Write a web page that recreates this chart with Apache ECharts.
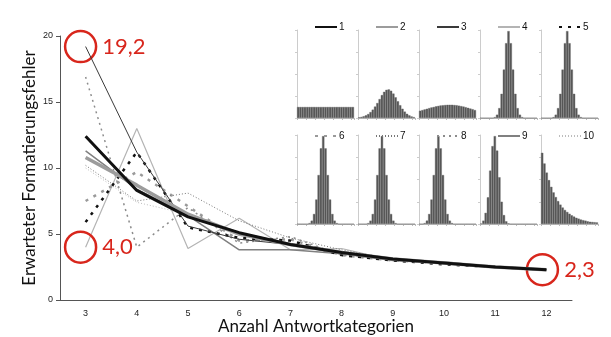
<!DOCTYPE html>
<html>
<head>
<meta charset="utf-8">
<style>
  html, body { margin: 0; padding: 0; background: #fff; }
  #chart { width: 611px; height: 337px; }
</style>
<script src="https://cdn.jsdelivr.net/npm/echarts@6/dist/echarts.min.js"></script>
</head>
<body>
<div id="chart"></div>
<script>
// Kategorien der x-Achse
const categories = ['3', '4', '5', '6', '7', '8', '9', '10', '11', '12']
const yTicks = [0, 5, 10, 15, 20]

// erwarteter Formatierungsfehler je Verteilung 1..10
const s1 = [12.4, 8.3, 6.3, 5.1, 4.2, 3.6, 3.1, 2.8, 2.5, 2.3]
const s2 = [10.8, 8.7, 6.5, 5.0, 4.2, 3.6, 3.1, 2.8, 2.5, 2.3]
const s3 = [19.2, 11.2, 5.6, 4.6, 4.2, 3.5, 3.1, 2.8, 2.5, 2.3]
const s4 = [4.0, 13.0, 3.9, 6.2, 3.8, 3.9, 3.0, 2.9, 2.5, 2.3]
const s5 = [5.9, 11.2, 5.5, 4.7, 4.5, 3.4, 3.0, 2.7, 2.5, 2.3]
const s6 = [7.5, 9.7, 7.1, 4.5, 4.6, 3.4, 3.0, 2.8, 2.5, 2.3]
const s7 = [10.2, 7.5, 8.1, 6.0, 4.7, 3.8, 3.1, 2.8, 2.5, 2.3]
const s8 = [16.9, 4.0, 7.0, 4.3, 4.8, 3.4, 3.1, 2.8, 2.5, 2.3]
const s9 = [11.3, 8.4, 6.4, 3.8, 3.8, 3.5, 3.0, 2.8, 2.5, 2.3]
const s10 = [10.0, 7.4, 6.5, 4.9, 4.1, 3.6, 3.1, 2.8, 2.5, 2.3]
const seriesNames = ['1', '2', '3', '4', '5', '6', '7', '8', '9', '10']

// Histogramme der Verteilungen (Inset)
const h1 = [0.5, 0.5, 0.5, 0.5, 0.5, 0.5, 0.5, 0.5, 0.5, 0.5, 0.5, 0.5, 0.5, 0.5, 0.5, 0.5, 0.5, 0.5, 0.5, 0.5, 0.5, 0.5, 0.5, 0.5, 0.5]
const h2 = [0.03, 0.05, 0.08, 0.12, 0.18, 0.27, 0.38, 0.52, 0.68, 0.86, 1.04, 1.19, 1.28, 1.3, 1.24, 1.11, 0.94, 0.76, 0.58, 0.42, 0.29, 0.19, 0.12, 0.07, 0.04]
const h3 = [0.33, 0.36, 0.39, 0.42, 0.45, 0.48, 0.5, 0.53, 0.55, 0.57, 0.58, 0.59, 0.6, 0.6, 0.6, 0.59, 0.58, 0.56, 0.54, 0.52, 0.49, 0.46, 0.43, 0.4, 0.36]
const h4 = [0, 0, 0, 0, 0, 0, 0.04, 0.15, 0.45, 1.1, 2.2, 3.4, 3.95, 3.4, 2.2, 1.1, 0.45, 0.15, 0.04, 0, 0, 0, 0, 0, 0]
const h5 = [0, 0, 0, 0, 0, 0.04, 0.15, 0.45, 1.1, 2.2, 3.4, 3.95, 3.4, 2.2, 1.1, 0.45, 0.15, 0.04, 0, 0, 0, 0, 0, 0, 0]
const h6 = [0, 0, 0, 0, 0, 0.04, 0.15, 0.45, 1.1, 2.2, 3.4, 3.95, 3.4, 2.2, 1.1, 0.45, 0.15, 0.04, 0, 0, 0, 0, 0, 0, 0]
const h7 = [0, 0, 0, 0, 0.04, 0.15, 0.45, 1.1, 2.2, 3.4, 3.95, 3.4, 2.2, 1.1, 0.45, 0.15, 0.04, 0, 0, 0, 0, 0, 0, 0, 0]
const h8 = [0, 0, 0.04, 0.15, 0.45, 1.1, 2.2, 3.4, 3.95, 3.4, 2.2, 1.1, 0.45, 0.15, 0.04, 0, 0, 0, 0, 0, 0, 0, 0, 0, 0]
const h9 = [0.02, 0.15, 0.5, 1.2, 2.4, 3.5, 3.95, 3.3, 2.1, 1.0, 0.4, 0.12, 0.03, 0, 0, 0, 0, 0, 0, 0, 0, 0, 0, 0, 0]
const h10 = [3.2, 2.72, 2.31, 1.97, 1.67, 1.42, 1.21, 1.03, 0.87, 0.74, 0.63, 0.54, 0.46, 0.39, 0.33, 0.28, 0.24, 0.2, 0.17, 0.15, 0.12, 0.1, 0.09, 0.08, 0.07]
const bins = ['1', '2', '3', '4', '5', '6', '7', '8', '9', '10', '11', '12', '13', '14', '15', '16', '17', '18', '19', '20', '21', '22', '23', '24', '25']

const lineData = [s1, s2, s3, s4, s5, s6, s7, s8, s9, s10]
const histData = [h1, h2, h3, h4, h5, h6, h7, h8, h9, h10]

// Linienstile der zehn Verteilungen
const lineStyles = [
    { color: '#111', width: 3, type: 'solid' },
    { color: '#9c9c9c', width: 3.5, type: 'solid' },
    { color: '#3a3a3a', width: 1, type: 'solid' },
    { color: '#b4b4b4', width: 1.2, type: 'solid' },
    { color: '#111', width: 2.5, type: [3, 6] },
    { color: '#9a9a9a', width: 2.5, type: [3, 6] },
    { color: '#777', width: 1, type: [1, 2] },
    { color: '#8c8c8c', width: 1.5, type: [2, 4] },
    { color: '#808080', width: 1.5, type: 'solid' },
    { color: '#bdbdbd', width: 1, type: [1, 2] },
]
const zOrder = [10, 9, 8, 3, 7, 4, 5, 6, 5, 2]

const RED = '#d8261c'
const fmtComma = (v) => v.toFixed(1).replace('.', ',')

// Markierungen (rote Kreise) an den Extremwerten
function redMark(idx, value, offsetX, dist) {
    return {
        coord: [categories[idx], value],
        value: value,
        symbol: 'circle',
        symbolSize: 31,
        symbolOffset: [offsetX, 0],
        itemStyle: { color: 'rgba(0,0,0,0)', borderColor: RED, borderWidth: 2.5 },
        label: {
            show: true,
            position: 'right',
            distance: dist,
            formatter: (p) => fmtComma(p.value),
            color: RED,
            fontSize: 22,
            fontFamily: 'Lato',
        },
    }
}

const marks = {
    2: [redMark(0, s3[0], -5, 5)],
    3: [redMark(0, s4[0], -5, 5)],
    0: [redMark(9, s1[9], -4, 5)],
}

const grids = [{ left: 60, right: 39, top: 36, bottom: 37, outerBoundsMode: 'none', containLabel: false }]
const xAxes = [{
    type: 'category',
    data: categories,
    gridIndex: 0,
    boundaryGap: true,
    name: 'Anzahl Antwortkategorien',
    nameLocation: 'middle',
    nameGap: 18,
    nameMoveOverlap: false,
    nameTextStyle: { fontFamily: 'Lato', fontSize: 17, color: '#111' },
    axisLine: { lineStyle: { color: '#555', width: 1 } },
    axisTick: { length: 4, lineStyle: { color: '#555' } },
    axisLabel: { fontFamily: 'Liberation Sans', fontSize: 9, color: '#222', margin: 9 },
    splitLine: { show: false },
}]
const yAxes = [{
    type: 'value',
    gridIndex: 0,
    min: yTicks[0],
    max: yTicks[yTicks.length - 1],
    interval: 5,
    name: 'Erwarteter Formatierungsfehler',
    nameLocation: 'middle',
    nameGap: 22,
    nameMoveOverlap: false,
    nameTextStyle: { fontFamily: 'Lato', fontSize: 17, color: '#111' },
    axisLine: { show: true, lineStyle: { color: '#555', width: 1 } },
    axisTick: { show: true, length: 4, lineStyle: { color: '#555' } },
    axisLabel: { fontFamily: 'Liberation Sans', fontSize: 9, color: '#222', margin: 7 },
    splitLine: { show: false },
}]

const series = []
const legends = []

lineData.forEach((d, i) => {
    const ls = lineStyles[i]
    series.push({
        name: seriesNames[i],
        type: 'line',
        data: d,
        xAxisIndex: 0,
        yAxisIndex: 0,
        symbol: 'none',
        z: zOrder[i],
        lineStyle: { color: ls.color, width: ls.width, type: ls.type },
        itemStyle: { color: ls.color },
        emphasis: { disabled: true },
        markPoint: marks[i] ? { data: marks[i], silent: true } : undefined,
    })
})

// Inset: 2 x 5 kleine Histogramme
histData.forEach((h, i) => {
    const row = i < 5 ? 0 : 1
    const col = i % 5
    const left = 297 + col * 61
    const top = row ? 135 : 30
    const k = i + 1
    grids.push({ left: left, top: top, width: 57, height: row ? 89 : 88, outerBoundsMode: 'none' })
    xAxes.push({
        type: 'category',
        gridIndex: k,
        data: bins,
        boundaryGap: true,
        offset: 3,
        axisLine: { lineStyle: { color: '#bbb', width: 1 } },
        axisTick: { show: true, interval: 3, length: 2, lineStyle: { color: '#bbb' } },
        axisLabel: { show: false },
    })
    yAxes.push({
        type: 'value',
        gridIndex: k,
        min: 0,
        max: 4,
        interval: 1,
        axisLine: { show: true, lineStyle: { color: '#ccc', width: 1 } },
        axisTick: { show: true, length: 2, lineStyle: { color: '#ccc' } },
        axisLabel: { show: false },
        splitLine: { show: false },
    })
    series.push({
        type: 'bar',
        data: h,
        xAxisIndex: k,
        yAxisIndex: k,
        barCategoryGap: '0%',
        itemStyle: { color: '#555', borderColor: '#6a6a6a', borderWidth: 0.4 },
        silent: true,
    })
    legends.push({
        data: [seriesNames[i]],
        left: left + 12,
        top: row ? 126 : 17,
        itemWidth: 22,
        itemHeight: 8,
        itemGap: 0,
        selectedMode: false,
        itemStyle: { opacity: 0 },
        textStyle: { fontFamily: 'Liberation Sans', fontSize: 10, color: '#111', padding: [0, 0, 0, -3] },
    })
})

const chart = echarts.init(document.getElementById('chart'), null, { renderer: 'canvas' })
chart.setOption({
    animation: false,
    backgroundColor: '#fff',
    grid: grids,
    xAxis: xAxes,
    yAxis: yAxes,
    legend: legends,
    series: series,
})
</script>
</body>
</html>
